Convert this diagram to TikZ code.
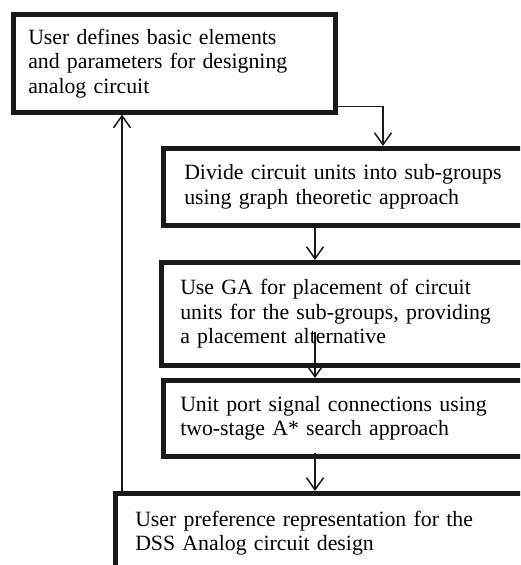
\documentclass[tikz,border=0pt]{standalone}
\usepackage{fontspec}
\setmainfont{Liberation Serif}
\usetikzlibrary{arrows.meta}

\begin{document}
\begin{tikzpicture}[x=1pt, y=-1pt,
    stepbox/.style={rectangle, draw=black!90, line width=4.5pt, fill=white, anchor=north west,
      inner ysep=0pt, align=left, font=\fontsize{21.8}{24.5}\selectfont},
    flow/.style={-{Straight Barb[length=12pt, width=17pt, line width=1.5pt]}, line width=1.5pt, black!90}]
    \useasboundingbox (0,0) rectangle (520,565);
    \clip (0,0) rectangle (520,565);

    % Startbox
    \node[stepbox, inner xsep=15pt, text width=292pt, minimum width=322pt, minimum height=98pt] (define) at (11,12)
      {User defines basic elements\\and parameters for designing\\analog circuit};

    % Teilgruppen
    \node[stepbox, inner xsep=21pt, text width=400pt, minimum height=77pt] (divide) at (161,146)
      {Divide circuit units into sub-groups\\using graph theoretic approach};

    % Platzierung mit GA
    \node[stepbox, inner xsep=19pt, text width=400pt, minimum height=103pt] (place) at (159,260)
      {Use GA for placement of circuit\\units for the sub-groups, providing\\a placement alternative};

    % Verdrahtung
    \node[stepbox, inner xsep=17pt, text width=400pt, minimum height=76pt] (route) at (161,378)
      {Unit port signal connections using\\two-stage A* search approach};

    % Nutzerpraeferenz
    \node[stepbox, inner xsep=20pt, text width=450pt, minimum height=80pt] (prefer) at (113,491)
      {User preference representation for the\\DSS Analog circuit design};

    % Hilfspunkte fuer die Pfeile
    \coordinate (turn) at (383,0);
    \coordinate (axis) at (315,0);
    \coordinate (back) at (122,0);
    \coordinate (inner) at (0,332);

    % Pfeile
    \draw[flow] ([yshift=8pt]define.south east) -| (divide.north -| turn);
    \draw[flow] (divide.south -| axis) -- (place.north -| axis);
    \draw[flow] (inner -| axis) -- (route.north -| axis);
    \draw[flow] ([yshift=6pt]route.south -| axis) -- (prefer.north -| axis);
    \draw[flow] (prefer.north -| back) -- (define.south -| back);
\end{tikzpicture}
\end{document}
